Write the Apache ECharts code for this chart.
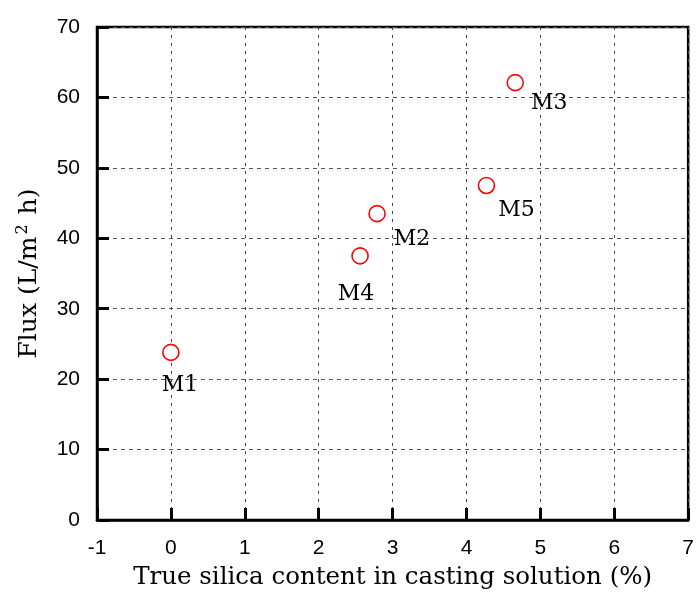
<!DOCTYPE html>
<html><head><meta charset="utf-8">
<script src="https://cdn.jsdelivr.net/npm/echarts@6/dist/echarts.min.js"></script>
<style>html,body{margin:0;padding:0;background:#fff}#c{width:697px;height:597px}</style>
</head><body><div id="c"></div>
<script>
const names = ['M1','M2','M3','M4','M5'];
const silica = [0, 2.79, 4.66, 2.56, 4.27];
const flux = [23.8, 43.5, 62.1, 37.5, 47.5];
const labelOffsets = [[9,33],[35,26],[34,21],[-4,38],[30,25]];

const lblStyle = {fontFamily:'DejaVu Serif',fontSize:22,color:'#000',textBorderWidth:0};
const chart = echarts.init(document.getElementById('c'));
const data = names.map((n,i)=>({
  value:[silica[i], flux[i]], name:n,
  label:Object.assign({show:true, formatter:n, position:'inside', offset:labelOffsets[i]}, lblStyle)
}));
chart.setOption({
  animation:false,
  grid:{left:97,right:5,top:27,bottom:77,show:true,borderColor:'#000',borderWidth:2.5,backgroundColor:'transparent'},
  xAxis:{
    type:'value',min:-1,max:7,interval:1,
    name:'True silica content in casting solution (%)',nameLocation:'middle',nameGap:45,
    nameTextStyle:{fontFamily:'DejaVu Serif',fontSize:24.5,color:'#000'},
    axisLine:{show:true,onZero:false,lineStyle:{color:'#000',width:2.5}},
    axisTick:{show:true,inside:true,length:12,lineStyle:{color:'#000',width:3}},
    axisLabel:{fontFamily:'Liberation Sans',fontSize:21,color:'#000',margin:18},
    splitLine:{show:true,lineStyle:{color:'#444',type:[3,5],width:1}}
  },
  yAxis:{
    type:'value',min:0,max:70,interval:10,
    name:'{n|Flux (L/m}{s|2}{n| h)}',nameLocation:'middle',nameGap:54,
    nameTextStyle:{rich:{n:{fontFamily:'DejaVu Serif',fontSize:25,color:'#000'},s:{fontFamily:'DejaVu Serif',fontSize:16,color:'#000',verticalAlign:'bottom',padding:[0,2,12,2]}}},
    axisLine:{show:true,onZero:false,lineStyle:{color:'#000',width:2.5}},
    axisTick:{show:true,inside:true,length:12,lineStyle:{color:'#000',width:3}},
    axisLabel:{fontFamily:'Liberation Sans',fontSize:21,color:'#000',margin:17},
    splitLine:{show:true,lineStyle:{color:'#555',type:[4,4],width:1}}
  },
  series:[{
    type:'scatter',data:data,symbol:'circle',symbolSize:16,
    itemStyle:{color:'#fff',borderColor:'#f00',borderWidth:1.6,opacity:1},
    label:lblStyle,
    z:5
  }]
});
</script></body></html>
